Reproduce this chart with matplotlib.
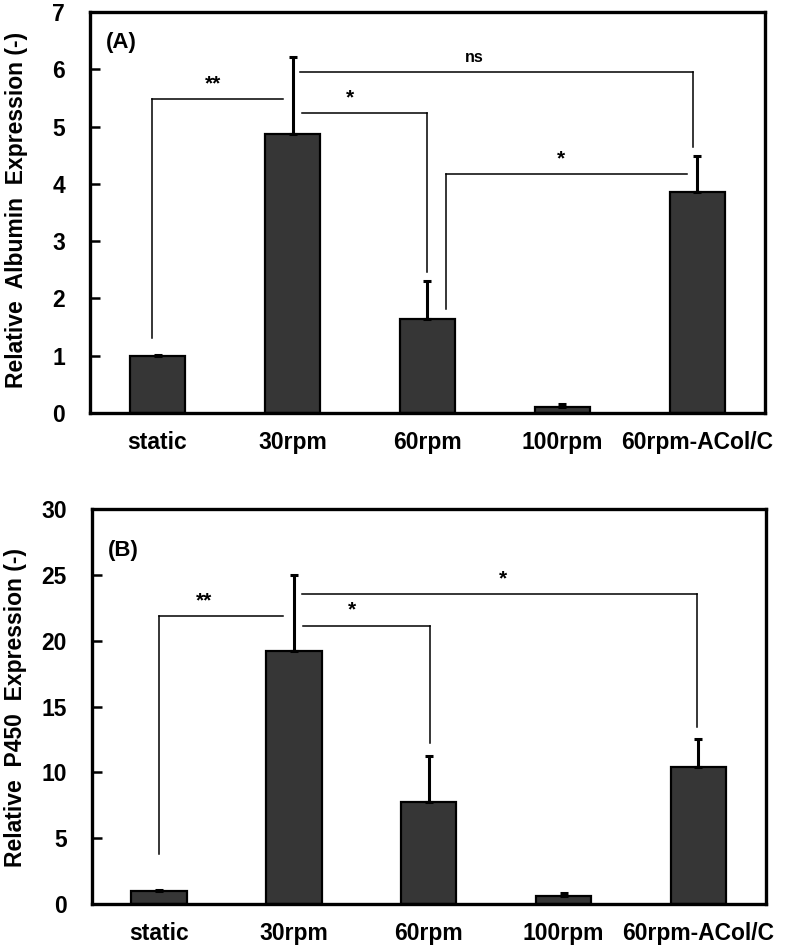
import matplotlib.pyplot as plt
import numpy as np

plt.rcParams["font.family"] = ["Liberation Sans", "DejaVu Sans"]
plt.rcParams["font.weight"] = "bold"

categories = ["static", "30rpm", "60rpm", "100rpm", "60rpm-ACol/C"]

albumin = [1.00, 4.87, 1.64, 0.11, 3.86]
albumin_err = [0.01, 1.35, 0.66, 0.04, 0.62]

p450 = [1.01, 19.24, 7.77, 0.61, 10.43]
p450_err = [0.04, 5.74, 3.47, 0.25, 2.08]

# brackets: x0, x1, y, left drop to, right drop to, label, label x, label y
albumin_brackets = [
    (-0.043, 0.93, 5.48, 1.31, None, "**", 0.41, 5.58),
    (1.068, 1.994, 5.23, None, 2.47, "*", 1.426, 5.33),
    (1.056, 3.967, 5.95, None, 4.65, "ns", 2.35, 6.08),
    (2.135, 3.924, 4.17, 1.81, None, "*", 2.99, 4.27),
]
p450_brackets = [
    (0.0, 0.921, 21.87, 3.8, None, "**", 0.333, 22.3),
    (1.07, 2.01, 21.13, None, 12.2, "*", 1.429, 21.6),
    (1.058, 3.988, 23.59, None, 13.42, "*", 2.549, 24.0),
]

BAR_COLOR = "#363636"


def draw_panel(ax, values, errors, brackets, ymax, ystep, ylabel, tag, tag_y):
    x = np.arange(len(categories))
    ax.bar(x, values, width=0.41, color=BAR_COLOR, edgecolor="black", linewidth=1.6, zorder=2)
    ax.errorbar(x, values, yerr=[np.zeros(len(values)), errors], fmt="none",
                ecolor="black", elinewidth=2.2, capsize=3, capthick=2.2, zorder=3)

    for x0, x1, y, ldrop, rdrop, label, lx, ly in brackets:
        ax.plot([x0, x1], [y, y], color="black", lw=1.1, zorder=1)
        if ldrop is not None:
            ax.plot([x0, x0], [ldrop, y], color="black", lw=1.1, zorder=1)
        if rdrop is not None:
            ax.plot([x1, x1], [rdrop, y], color="black", lw=1.1, zorder=1)
        fs = 11.5 if label == "ns" else 15
        ax.text(lx, ly, label, ha="center", va="bottom", fontsize=fs, fontweight="bold")

    ax.text(-0.38, tag_y, tag, ha="left", va="center", fontsize=16, fontweight="bold")

    ax.set_xlim(-0.5, len(categories) - 0.5)
    ax.set_ylim(0, ymax)
    ax.set_yticks(np.arange(0, ymax + ystep / 2, ystep))
    ax.set_xticks(x)
    ax.set_xticklabels(categories)
    ax.tick_params(axis="y", direction="in", length=7, width=1.8, labelsize=16.5, pad=18)
    ax.tick_params(axis="x", length=0, labelsize=16.5, pad=13)
    for s in ax.spines.values():
        s.set_linewidth(2.4)
    ax.set_ylabel(ylabel, fontsize=16.5, fontweight="bold")


fig = plt.figure(figsize=(7.87, 9.46), dpi=100)
ax1 = fig.add_axes([0.1144, 0.5634, 0.8576, 0.4239])
ax2 = fig.add_axes([0.1165, 0.0444, 0.8565, 0.4172])

draw_panel(ax1, albumin, albumin_err, albumin_brackets, 7, 1,
           "Relative  Albumin  Expression (-)", "(A)", 6.47)
draw_panel(ax2, p450, p450_err, p450_brackets, 30, 5,
           "Relative  P450  Expression (-)", "(B)", 26.9)
ax1.yaxis.set_label_coords(-0.0926, 0.506)
ax2.yaxis.set_label_coords(-0.0966, 0.497)

fig.savefig("out.png", dpi=100)
